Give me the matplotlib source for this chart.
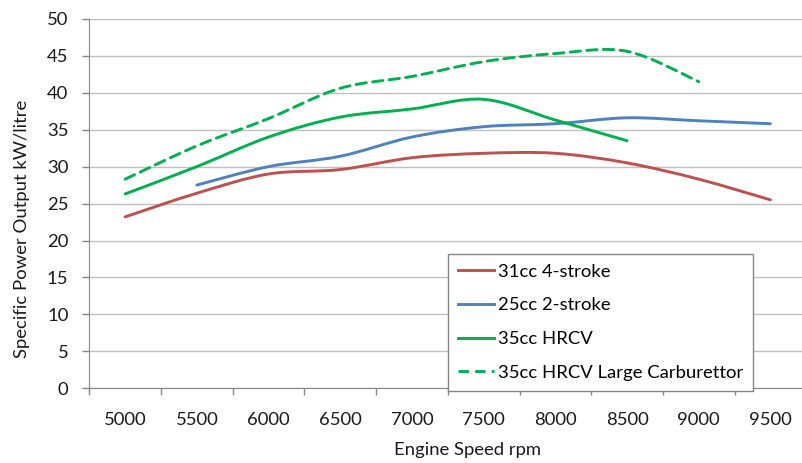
import numpy as np
import matplotlib
matplotlib.use('Agg')
import matplotlib.pyplot as plt
from matplotlib.path import Path
from matplotlib.patches import PathPatch
from matplotlib.lines import Line2D

plt.rcParams['font.family'] = ['Lato', 'DejaVu Sans']
plt.rcParams['lines.scale_dashes'] = False

# engine speed categories (rpm)
speeds = [5000, 5500, 6000, 6500, 7000, 7500, 8000, 8500, 9000, 9500]

# specific power output kW/litre, None where not measured
four_stroke_31cc = [23.2, 26.4, 29.0, 29.6, 31.2, 31.8, 31.8, 30.5, 28.3, 25.5]
two_stroke_25cc = [None, 27.5, 30.0, 31.4, 34.0, 35.4, 35.8, 36.6, 36.2, 35.8]
hrcv_35cc = [26.3, 30.0, 34.0, 36.7, 37.8, 39.1, 36.3, 33.5, None, None]
hrcv_35cc_large = [28.3, 32.8, 36.5, 40.6, 42.2, 44.2, 45.3, 45.6, 41.5, None]

labels = ['31cc 4-stroke', '25cc 2-stroke', '35cc HRCV', '35cc HRCV Large Carburettor']
colors = ['#C0504D', '#4F81BD', '#00B050', '#00B050']
styles = ['-', '-', '-', (0, (7.5, 4.5))]


def smooth_path(vals):
    # excel style smoothed line: cubic bezier through each point
    pts = np.array([(i, v) for i, v in enumerate(vals) if v is not None], dtype=float)
    n = len(pts)
    verts = [pts[0]]
    codes = [Path.MOVETO]
    for i in range(n - 1):
        p0 = pts[max(i - 1, 0)]
        p1 = pts[i]
        p2 = pts[i + 1]
        p3 = pts[min(i + 2, n - 1)]
        verts += [p1 + (p2 - p0) / 6, p2 - (p3 - p1) / 6, p2]
        codes += [Path.CURVE4] * 3
    return Path(verts, codes)


fig = plt.figure(figsize=(8.02, 4.63), dpi=100)
ax = fig.add_axes([89.3 / 802, 74.7 / 463, 717 / 802, 369.5 / 463])

series = [four_stroke_31cc, two_stroke_25cc, hrcv_35cc, hrcv_35cc_large]
handles = []
for vals, lab, c, ls in zip(series, labels, colors, styles):
    patch = PathPatch(smooth_path(vals), facecolor='none', edgecolor=c,
                      lw=2.1, linestyle=ls, capstyle='round', zorder=3)
    ax.add_patch(patch)
    handles.append(Line2D([], [], color=c, lw=2.1, linestyle=ls))

ax.set_xlim(-0.5, len(speeds) - 0.5)
ax.set_ylim(0, 50)
ax.set_yticks(range(0, 51, 5))
ax.set_xticks(range(len(speeds)))
ax.set_xticklabels([str(s) for s in speeds])
ax.set_xticks(np.arange(-0.5, len(speeds)), minor=True)

ax.grid(axis='y', color='#C0C0C0', lw=1.0, zorder=0)
ax.set_axisbelow(True)
for s in ['top', 'right']:
    ax.spines[s].set_visible(False)
ax.spines['left'].set_color('#868686')
ax.spines['bottom'].set_color('#868686')
ax.tick_params(axis='x', which='major', length=0, pad=17, labelsize=13.3, colors='#1a1a1a')
ax.tick_params(axis='x', which='minor', length=5, width=1, color='#868686')
ax.tick_params(axis='y', length=5, width=1, color='#868686', pad=10, labelsize=13.3,
               labelcolor='#1a1a1a')

leg = ax.legend(handles, labels, loc='lower left', bbox_to_anchor=(448.3 / 802, 72.3 / 463),
                bbox_transform=fig.transFigure, fontsize=13.3, frameon=True, fancybox=False,
                edgecolor='#868686', framealpha=1, handlelength=1.9, handletextpad=0.22,
                labelspacing=0.95, borderpad=0.55, borderaxespad=0)
leg.get_frame().set_linewidth(1.0)

fig.text(22 / 802, 0.505, 'Specific Power Output kW/litre', rotation=90,
         ha='center', va='center', fontsize=13.3, color='#1a1a1a')
fig.text(467.7 / 802, 13 / 463, 'Engine Speed rpm', ha='center', va='center',
         fontsize=13.3, color='#1a1a1a')
# chart title, mostly cut off at the top edge of the image
fig.text(0.55, 1.011, 'Engine Speed vs Specific Power Output', ha='center',
         va='baseline', fontsize=19, fontweight='bold', color='#1a1a1a')

fig.savefig('out.png', dpi=100)
